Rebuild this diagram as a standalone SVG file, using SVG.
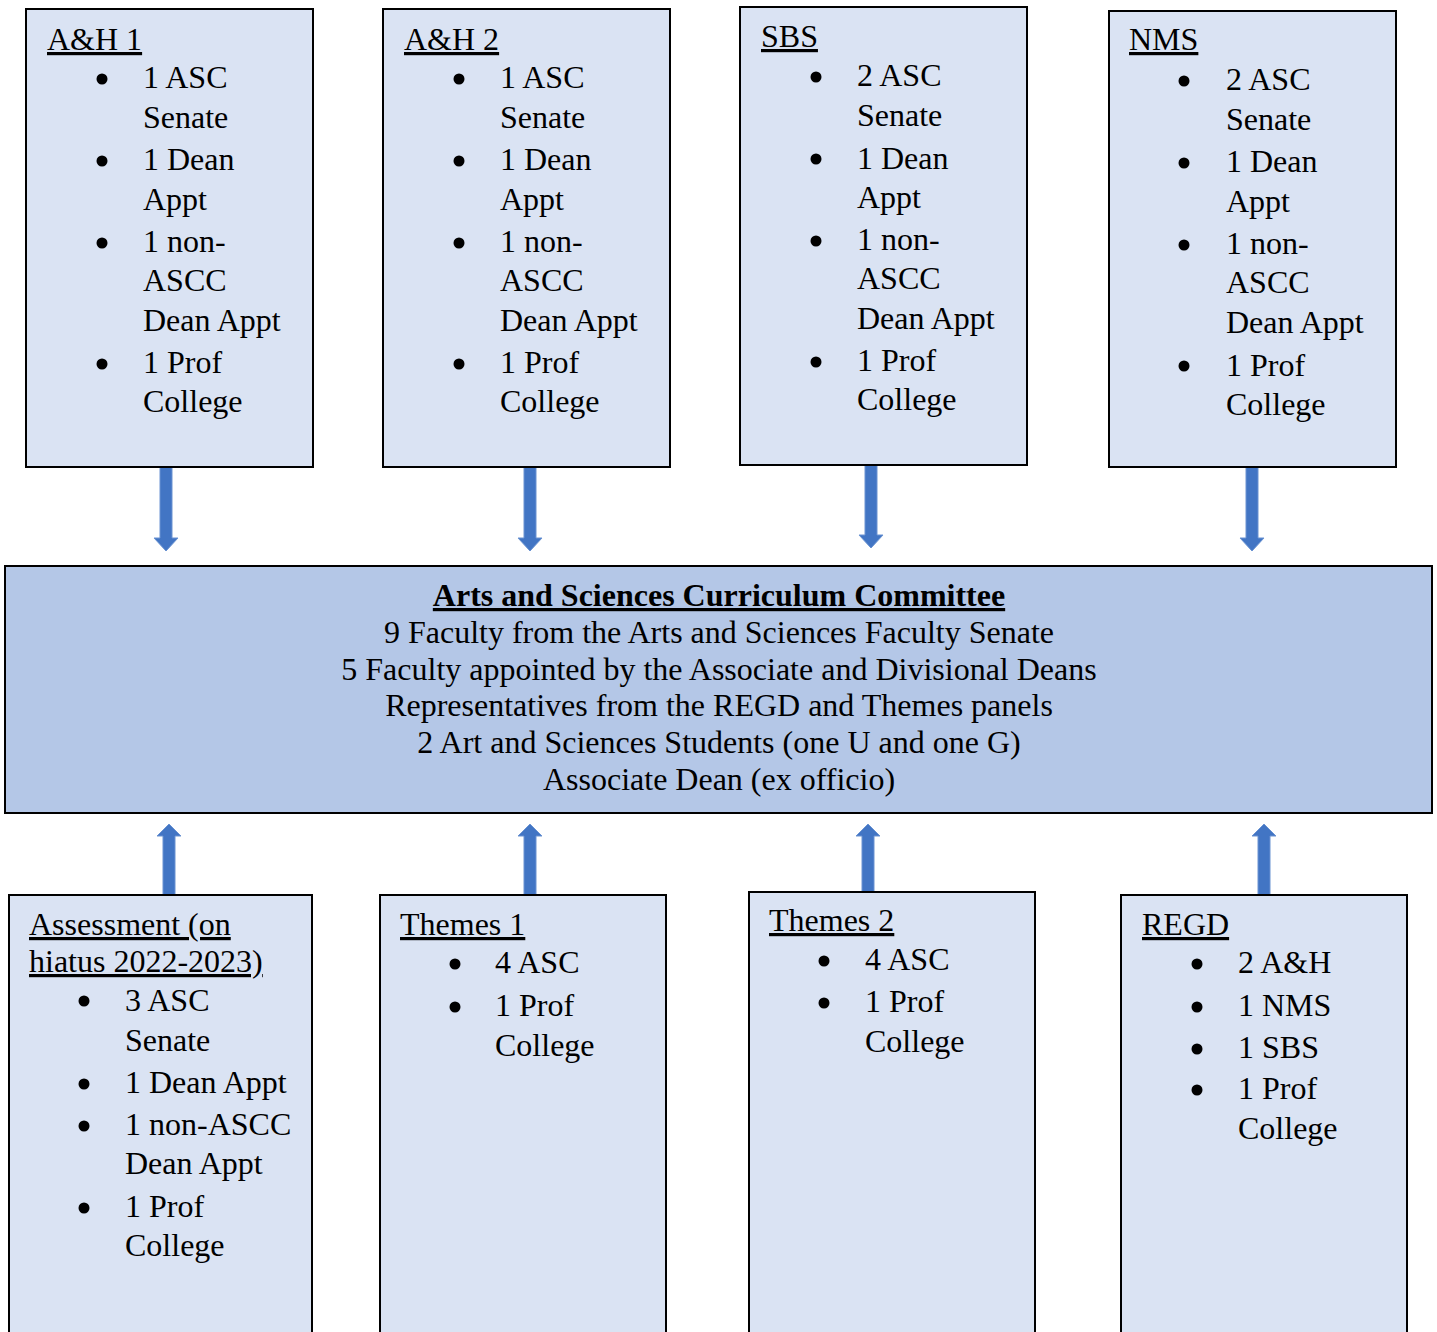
<svg xmlns="http://www.w3.org/2000/svg" width="1437" height="1332" viewBox="0 0 1437 1332">
<style>
text{font-family:"Liberation Serif","Times New Roman",serif;font-size:32px;fill:#000}
.t{text-decoration:underline}
.c{text-anchor:middle}
.b{font-weight:bold}
.box{fill:#dae3f3;stroke:#000;stroke-width:2}
.main{fill:#b4c7e7;stroke:#000;stroke-width:2}
.arr{fill:#4275c4;stroke:#6a93d2;stroke-width:1}
.dot{fill:#000}
</style>
<rect width="1437" height="1332" fill="#fff"/>
<g id="connectors">
<path class="arr" d="M160,467 H172 V538 H178 L166,551 L154,538 H160 Z"/>
<path class="arr" d="M524,467 H536 V538 H542 L530,551 L518,538 H524 Z"/>
<path class="arr" d="M865,465 H877 V535 H883 L871,548 L859,535 H865 Z"/>
<path class="arr" d="M1246,467 H1258 V538 H1264 L1252,551 L1240,538 H1246 Z"/>
<path class="arr" d="M163,895 H175 V836 H181 L169,824 L157,836 H163 Z"/>
<path class="arr" d="M524,895 H536 V836 H542 L530,824 L518,836 H524 Z"/>
<path class="arr" d="M862,892 H874 V836 H880 L868,824 L856,836 H862 Z"/>
<path class="arr" d="M1258,895 H1270 V836 H1276 L1264,824 L1252,836 H1258 Z"/>
</g>
<g id="ah1">
<rect class="box" x="26" y="9" width="287" height="458"/>
<text class="t" x="47" y="50">A&amp;H 1</text>
<circle class="dot" cx="102" cy="79" r="5.5"/><circle class="dot" cx="102" cy="161" r="5.5"/><circle class="dot" cx="102" cy="243" r="5.5"/><circle class="dot" cx="102" cy="364" r="5.5"/>
<text x="143" y="88">1 ASC</text><text x="143" y="128">Senate</text><text x="143" y="170">1 Dean</text><text x="143" y="210">Appt</text><text x="143" y="252">1 non-</text><text x="143" y="291">ASCC</text><text x="143" y="331">Dean Appt</text><text x="143" y="373">1 Prof</text><text x="143" y="412">College</text>
</g>
<g id="ah2">
<rect class="box" x="383" y="9" width="287" height="458"/>
<text class="t" x="404" y="50">A&amp;H 2</text>
<circle class="dot" cx="459" cy="79" r="5.5"/><circle class="dot" cx="459" cy="161" r="5.5"/><circle class="dot" cx="459" cy="243" r="5.5"/><circle class="dot" cx="459" cy="364" r="5.5"/>
<text x="500" y="88">1 ASC</text><text x="500" y="128">Senate</text><text x="500" y="170">1 Dean</text><text x="500" y="210">Appt</text><text x="500" y="252">1 non-</text><text x="500" y="291">ASCC</text><text x="500" y="331">Dean Appt</text><text x="500" y="373">1 Prof</text><text x="500" y="412">College</text>
</g>
<g id="sbs">
<rect class="box" x="740" y="7" width="287" height="458"/>
<text class="t" x="761" y="47">SBS</text>
<circle class="dot" cx="816" cy="77" r="5.5"/><circle class="dot" cx="816" cy="159" r="5.5"/><circle class="dot" cx="816" cy="241" r="5.5"/><circle class="dot" cx="816" cy="362" r="5.5"/>
<text x="857" y="86">2 ASC</text><text x="857" y="126">Senate</text><text x="857" y="169">1 Dean</text><text x="857" y="208">Appt</text><text x="857" y="250">1 non-</text><text x="857" y="289">ASCC</text><text x="857" y="329">Dean Appt</text><text x="857" y="371">1 Prof</text><text x="857" y="410">College</text>
</g>
<g id="nms">
<rect class="box" x="1109" y="11" width="287" height="456"/>
<text class="t" x="1129" y="50">NMS</text>
<circle class="dot" cx="1184" cy="81" r="5.5"/><circle class="dot" cx="1184" cy="163" r="5.5"/><circle class="dot" cx="1184" cy="245" r="5.5"/><circle class="dot" cx="1184" cy="366" r="5.5"/>
<text x="1226" y="90">2 ASC</text><text x="1226" y="130">Senate</text><text x="1226" y="172">1 Dean</text><text x="1226" y="212">Appt</text><text x="1226" y="254">1 non-</text><text x="1226" y="293">ASCC</text><text x="1226" y="333">Dean Appt</text><text x="1226" y="376">1 Prof</text><text x="1226" y="415">College</text>
</g>
<g id="ascc">
<rect class="main" x="5" y="566" width="1427" height="247"/>
<text class="t b c" x="719" y="606">Arts and Sciences Curriculum Committee</text>
<text class="c" x="719" y="643">9 Faculty from the Arts and Sciences Faculty Senate</text>
<text class="c" x="719" y="680">5 Faculty appointed by the Associate and Divisional Deans</text>
<text class="c" x="719" y="716">Representatives from the REGD and Themes panels</text>
<text class="c" x="719" y="753">2 Art and Sciences Students (one U and one G)</text>
<text class="c" x="719" y="790">Associate Dean (ex officio)</text>
</g>
<g id="assessment">
<rect class="box" x="9" y="895" width="303" height="445"/>
<text class="t" x="29" y="935">Assessment (on</text>
<text class="t" x="29" y="972">hiatus 2022-2023)</text>
<circle class="dot" cx="84" cy="1001" r="5.5"/><circle class="dot" cx="84" cy="1084" r="5.5"/><circle class="dot" cx="84" cy="1126" r="5.5"/><circle class="dot" cx="84" cy="1208" r="5.5"/>
<text x="125" y="1011">3 ASC</text><text x="125" y="1051">Senate</text><text x="125" y="1093">1 Dean Appt</text><text x="125" y="1135">1 non-ASCC</text><text x="125" y="1174">Dean Appt</text><text x="125" y="1217">1 Prof</text><text x="125" y="1256">College</text>
</g>
<g id="themes1">
<rect class="box" x="380" y="895" width="286" height="445"/>
<text class="t" x="400" y="935">Themes 1</text>
<circle class="dot" cx="455" cy="964" r="5.5"/><circle class="dot" cx="455" cy="1007" r="5.5"/>
<text x="495" y="973">4 ASC</text><text x="495" y="1016">1 Prof</text><text x="495" y="1056">College</text>
</g>
<g id="themes2">
<rect class="box" x="749" y="892" width="286" height="448"/>
<text class="t" x="769" y="931">Themes 2</text>
<circle class="dot" cx="824" cy="961" r="5.5"/><circle class="dot" cx="824" cy="1003" r="5.5"/>
<text x="865" y="970">4 ASC</text><text x="865" y="1012">1 Prof</text><text x="865" y="1052">College</text>
</g>
<g id="regd">
<rect class="box" x="1121" y="895" width="286" height="445"/>
<text class="t" x="1142" y="935">REGD</text>
<circle class="dot" cx="1197" cy="964" r="5.5"/><circle class="dot" cx="1197" cy="1007" r="5.5"/><circle class="dot" cx="1197" cy="1049" r="5.5"/><circle class="dot" cx="1197" cy="1090" r="5.5"/>
<text x="1238" y="973">2 A&amp;H</text><text x="1238" y="1016">1 NMS</text><text x="1238" y="1058">1 SBS</text><text x="1238" y="1099">1 Prof</text><text x="1238" y="1139">College</text>
</g>
</svg>
